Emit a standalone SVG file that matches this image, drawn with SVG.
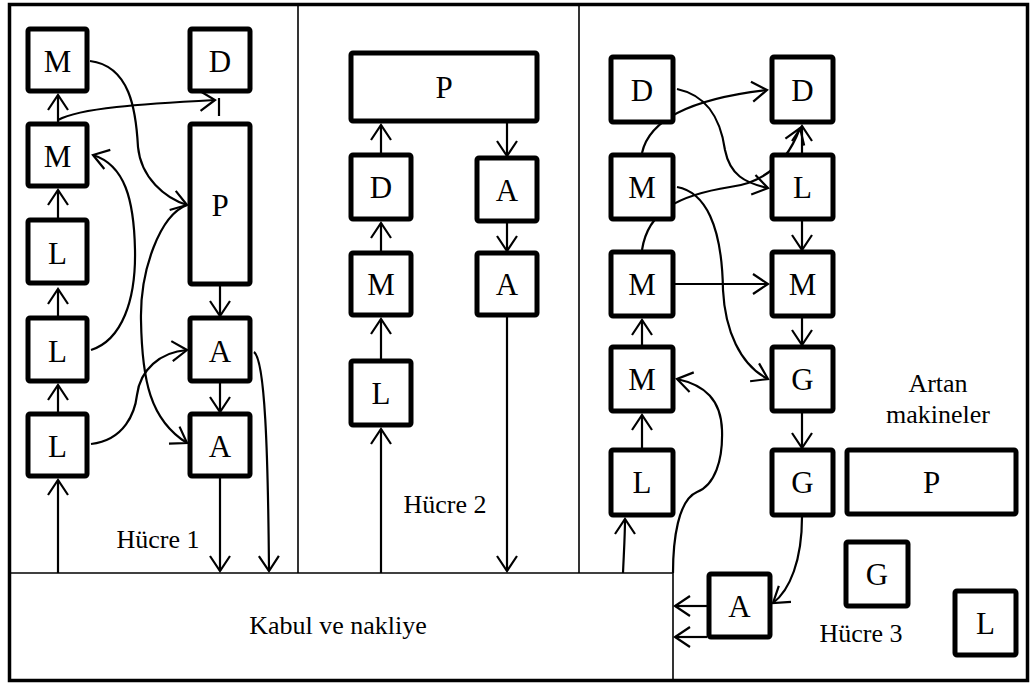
<svg xmlns="http://www.w3.org/2000/svg" width="1032" height="684" viewBox="0 0 1032 684" font-family="'Liberation Serif', 'DejaVu Serif', serif">
  <style>
    text { font-family: 'Liberation Serif', 'DejaVu Serif', serif; fill: #000; text-anchor: middle; }
    .node rect { fill: #fff; stroke: #000; stroke-width: 5; }
    .node text { font-size: 31px; }
    .label { font-size: 26px; }
    .wall { stroke: #000; stroke-width: 1.6; fill: none; }
    .conn path { fill: none; stroke: #000; stroke-width: 2.2; }
    .conn path.arrow { marker-end: url(#arr); }
  </style>
  <defs>
    <marker id="arr" markerUnits="userSpaceOnUse" viewBox="-17 -12 19 24" markerWidth="19" markerHeight="24" refX="0" refY="0" orient="auto" overflow="visible">
      <path d="M-15,-10 L0,0 L-15,10" fill="none" stroke="#000" stroke-width="2.2"/>
    </marker>
  </defs>

  <rect x="0" y="0" width="1032" height="684" fill="#fff"/>

  <!-- Frame, cell walls and the receiving area -->
  <g id="layout">
    <rect x="9.5" y="4.5" width="1018" height="676" fill="none" stroke="#000" stroke-width="3.5"/>
    <line class="wall" x1="298" y1="5" x2="298" y2="573"/>
    <line class="wall" x1="579" y1="5" x2="579" y2="573"/>
    <line class="wall" x1="10" y1="573" x2="673" y2="573"/>
    <line class="wall" x1="673" y1="573" x2="673" y2="680"/>
  </g>

  <!-- Connectors -->
  <g id="connectors" class="conn">
    <!-- Cell 1 -->
    <path class="arrow" d="M58,573 L58,480"/>
    <path class="arrow" d="M58,412 L58,385"/>
    <path class="arrow" d="M58,316 L58,289"/>
    <path class="arrow" d="M58,218 L58,190"/>
    <path class="arrow" d="M58,122 L58,95"/>
    <path class="arrow" d="M220,286 L220,316"/>
    <path class="arrow" d="M220,383 L220,412"/>
    <path class="arrow" d="M220,478 L220,571"/>
    <path class="arrow" d="M254,352 C265,360 268,450 269,571"/>
    <path class="arrow" d="M90,61 C130,66 136,110 138,147 C141,178 165,198 187,205"/>
    <path class="arrow" d="M187,205 C160,215 140,270 141,320 C142,380 150,420 187,443"/>
    <path class="arrow" d="M91,350 C122,340 136,300 135,250 C134,200 125,165 93,155"/>
    <path class="arrow" d="M91,444 C125,440 135,412 137,395 C140,370 160,352 187,350"/>
    <path class="arrow" d="M58,120 C80,108 140,104 215,100"/>
    <path d="M219,98 L219,116"/>

    <!-- Cell 2 -->
    <path class="arrow" d="M381,573 L381,429"/>
    <path class="arrow" d="M381,359 L381,319"/>
    <path class="arrow" d="M381,251 L381,223"/>
    <path class="arrow" d="M381,153 L381,125"/>
    <path class="arrow" d="M507,123 L507,156"/>
    <path class="arrow" d="M507,223 L507,251"/>
    <path class="arrow" d="M507,317 L507,571"/>

    <!-- Cell 3 -->
    <path class="arrow" d="M623,573 C624,550 625,535 625,519"/>
    <path class="arrow" d="M642,448 L642,415"/>
    <path class="arrow" d="M642,345 L642,320"/>
    <path class="arrow" d="M675,284 L768,284"/>
    <path class="arrow" d="M802,221 L802,250"/>
    <path class="arrow" d="M802,318 L802,345"/>
    <path class="arrow" d="M802,413 L802,448"/>
    <path class="arrow" d="M802,153 L802,126"/>
    <path class="arrow" d="M677,89 C705,95 720,115 725,150 C730,175 745,183 768,188"/>
    <path class="arrow" d="M677,187 C705,192 722,225 723,290 C725,330 740,365 768,379"/>
    <path class="arrow" d="M642,153 C648,125 680,100 767,90"/>
    <path class="arrow" d="M642,250 C648,210 680,195 730,187 C770,182 790,155 800,128"/>
    <path class="arrow" d="M673,573 C673,540 678,500 697,492 C715,485 723,460 722,430 C721,400 705,385 677,379"/>
    <path class="arrow" d="M802,517 C802,560 790,590 773,603"/>
    <path class="arrow" d="M707,606 L675,606"/>
    <path class="arrow" d="M707,637 L675,637"/>
  </g>

  <!-- Cell 1 machines -->
  <g id="c1-M1" class="node"><rect x="28" y="29" width="59" height="62" rx="2"/><text x="57.5" y="72">M</text></g>
  <g id="c1-D" class="node"><rect x="190" y="29" width="60" height="62" rx="2"/><text x="220" y="72">D</text></g>
  <g id="c1-M2" class="node"><rect x="28" y="124" width="59" height="62" rx="2"/><text x="57.5" y="167">M</text></g>
  <g id="c1-P" class="node"><rect x="190" y="124" width="60" height="160" rx="2"/><text x="220" y="216">P</text></g>
  <g id="c1-L1" class="node"><rect x="28" y="220" width="59" height="63" rx="2"/><text x="57.5" y="264">L</text></g>
  <g id="c1-L2" class="node"><rect x="28" y="318" width="59" height="63" rx="2"/><text x="57.5" y="362">L</text></g>
  <g id="c1-L3" class="node"><rect x="28" y="414" width="59" height="62" rx="2"/><text x="57.5" y="457">L</text></g>
  <g id="c1-A1" class="node"><rect x="190" y="318" width="60" height="63" rx="2"/><text x="220" y="362">A</text></g>
  <g id="c1-A2" class="node"><rect x="190" y="414" width="60" height="62" rx="2"/><text x="220" y="457">A</text></g>

  <!-- Cell 2 machines -->
  <g id="c2-P" class="node"><rect x="351" y="53" width="186" height="68" rx="2"/><text x="444" y="98">P</text></g>
  <g id="c2-D" class="node"><rect x="351" y="155" width="60" height="64" rx="2"/><text x="381" y="198">D</text></g>
  <g id="c2-A1" class="node"><rect x="477" y="158" width="60" height="63" rx="2"/><text x="507" y="201">A</text></g>
  <g id="c2-M" class="node"><rect x="351" y="253" width="60" height="62" rx="2"/><text x="381" y="295">M</text></g>
  <g id="c2-A2" class="node"><rect x="477" y="253" width="60" height="62" rx="2"/><text x="507" y="295">A</text></g>
  <g id="c2-L" class="node"><rect x="351" y="361" width="60" height="64" rx="2"/><text x="381" y="404">L</text></g>

  <!-- Cell 3 machines -->
  <g id="c3-D1" class="node"><rect x="611" y="57" width="62" height="65" rx="2"/><text x="642" y="101">D</text></g>
  <g id="c3-D2" class="node"><rect x="772" y="57" width="61" height="65" rx="2"/><text x="802.5" y="101">D</text></g>
  <g id="c3-M1" class="node"><rect x="611" y="155" width="62" height="64" rx="2"/><text x="642" y="198">M</text></g>
  <g id="c3-L1" class="node"><rect x="772" y="155" width="61" height="64" rx="2"/><text x="802.5" y="198">L</text></g>
  <g id="c3-M2" class="node"><rect x="611" y="252" width="62" height="64" rx="2"/><text x="642" y="295">M</text></g>
  <g id="c3-M3" class="node"><rect x="772" y="252" width="61" height="64" rx="2"/><text x="802.5" y="295">M</text></g>
  <g id="c3-M4" class="node"><rect x="611" y="347" width="62" height="64" rx="2"/><text x="642" y="390">M</text></g>
  <g id="c3-G1" class="node"><rect x="772" y="347" width="61" height="64" rx="2"/><text x="802.5" y="390">G</text></g>
  <g id="c3-L2" class="node"><rect x="611" y="450" width="62" height="65" rx="2"/><text x="642" y="493">L</text></g>
  <g id="c3-G2" class="node"><rect x="772" y="450" width="61" height="65" rx="2"/><text x="802.5" y="493">G</text></g>
  <g id="c3-A" class="node"><rect x="709" y="574" width="61" height="63" rx="2"/><text x="739.5" y="617">A</text></g>

  <!-- Spare machines -->
  <g id="spare-P" class="node"><rect x="847" y="450" width="169" height="64" rx="2"/><text x="931.5" y="493">P</text></g>
  <g id="spare-G" class="node"><rect x="846" y="542" width="62" height="64" rx="2"/><text x="877" y="585">G</text></g>
  <g id="spare-L" class="node"><rect x="955" y="591" width="61" height="64" rx="2"/><text x="985.5" y="634">L</text></g>

  <!-- Labels -->
  <g id="labels">
    <text class="label" x="158" y="548">Hücre 1</text>
    <text class="label" x="445" y="513">Hücre 2</text>
    <text class="label" x="861" y="642">Hücre 3</text>
    <text class="label" x="938" y="392">Artan</text>
    <text class="label" x="938" y="423">makineler</text>
    <text class="label" x="338" y="634">Kabul ve nakliye</text>
  </g>
</svg>
